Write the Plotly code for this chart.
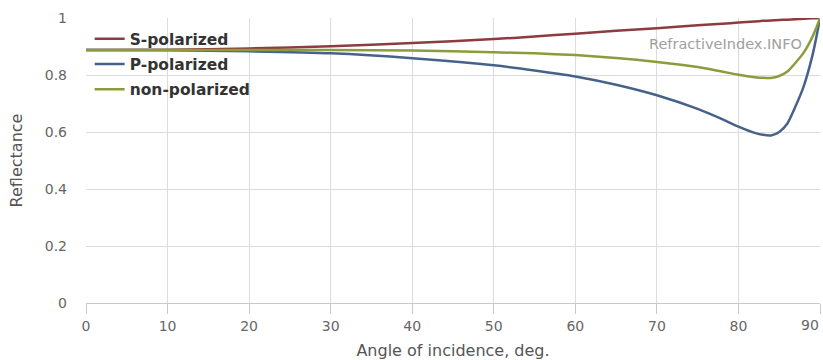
import plotly.graph_objects as go

angles = [0, 10, 20, 30, 40, 50, 55, 60, 65, 70, 75, 78, 80, 82, 83, 84, 85, 86, 87, 88, 89, 89.5, 90]
s_pol = [0.888, 0.889, 0.893, 0.901, 0.912, 0.926, 0.935, 0.945, 0.955, 0.964, 0.975, 0.980,
         0.984, 0.988, 0.990, 0.991, 0.993, 0.994, 0.996, 0.997, 0.999, 0.9995, 1.0]
p_pol = [0.888, 0.887, 0.883, 0.876, 0.859, 0.834, 0.816, 0.795, 0.766, 0.729, 0.681, 0.645,
         0.619, 0.597, 0.590, 0.588, 0.600, 0.630, 0.690, 0.760, 0.860, 0.925, 1.0]
non_pol = [0.888, 0.888, 0.888, 0.888, 0.886, 0.880, 0.876, 0.870, 0.860, 0.846, 0.828, 0.812,
           0.801, 0.7925, 0.790, 0.7895, 0.7965, 0.812, 0.843, 0.8785, 0.9295, 0.962, 1.0]

x_ticks = [0, 10, 20, 30, 40, 50, 60, 70, 80, 90]
x_tick_labels = ["0", "10", "20", "30", "40", "50", "60", "70", "80", ""]
x_last_label = "90"
y_ticks = [0, 0.2, 0.4, 0.6, 0.8, 1]
y_tick_labels = ["0", "0.2", "0.4", "0.6", "0.8", "1"]

series = [
    ("S-polarized", s_pol, "#8e3b40"),
    ("P-polarized", p_pol, "#46628a"),
    ("non-polarized", non_pol, "#8b9c3d"),
]

fig = go.Figure()
for i, (name, vals, col) in enumerate(series):
    fig.add_trace(go.Scatter(
        x=angles, y=vals, mode="lines", name="<b>" + name + "</b>",
        line=dict(color=col, width=2.5, shape="spline", smoothing=0.6),
        legendgroup="g%d" % i,
    ))

fig.update_layout(
    width=823, height=360,
    margin=dict(l=86, r=3, t=18, b=57),
    paper_bgcolor="white", plot_bgcolor="white",
    font=dict(family="DejaVu Sans", size=14, color="#666666"),
    showlegend=True,
    legend=dict(x=0.005, y=0.985, xanchor="left", yanchor="top",
                bgcolor="rgba(0,0,0,0)", font=dict(size=15.5, color="#333333"),
                tracegroupgap=2, itemwidth=30),
    annotations=[
        dict(text="RefractiveIndex.INFO", xref="x", yref="y", x=78.4, y=0.909,
             showarrow=False, font=dict(size=14.5, color="#a0a0a0"),
             xanchor="center", yanchor="middle"),
        dict(text=x_last_label, xref="x", yref="y", x=x_ticks[-1], y=0,
             showarrow=False, font=dict(size=14, color="#666666"),
             xanchor="right", yanchor="top", yshift=-12, xshift=1),
    ],
)
fig.update_xaxes(range=[0, 90], tickvals=x_ticks, ticktext=x_tick_labels,
                 ticks="outside", ticklen=10,
                 tickcolor="#c8c8d0", showgrid=True, gridcolor="#dcdcdc",
                 zeroline=False, showline=True, linecolor="#c8c8d0",
                 ticklabeloverflow="allow", automargin=False,
                 title=dict(text="Angle of incidence, deg.", standoff=12,
                            font=dict(size=16, color="#555555")))
fig.update_yaxes(range=[0, 1.0], tickvals=y_ticks, ticktext=y_tick_labels,
                 showgrid=True, gridcolor="#dcdcdc", zeroline=False,
                 showline=False, ticks="", ticklabelstandoff=18,
                 title=dict(text="Reflectance", standoff=18,
                            font=dict(size=16, color="#555555")))

fig.write_html("out.html", config={"displayModeBar": False},
               post_script="document.body.style.margin='0';")
